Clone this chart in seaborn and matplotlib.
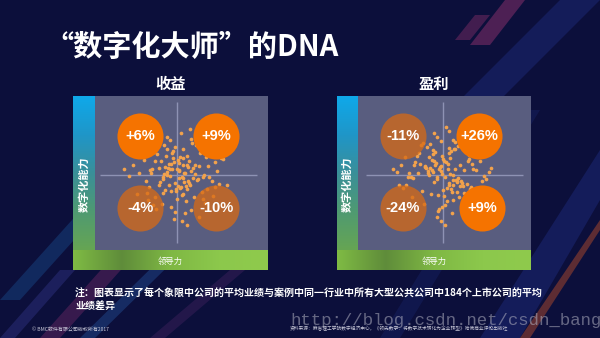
import numpy as np
import pandas as pd
import matplotlib
matplotlib.use("Agg")
import matplotlib.pyplot as plt
from matplotlib.colors import LinearSegmentedColormap
from matplotlib.patches import Polygon
import seaborn as sns

# ---------------- data ----------------
title = "“数字化大师”的DNA"
panel_titles = ["收益", "盈利"]
revenue_diff = [6, 9, -4, -10]     # % vs industry average (TL, TR, BL, BR)
profit_diff = [-11, 26, -24, 9]
y_label = "数字化能力"
x_label = "领导力"
note = ("注：图表显示了每个象限中公司的平均业绩与案例中同一行业中所有大型公共公司中184个上市公司的平均\n"
        "业绩差异")
footer_left = "© BMC软件有限公司版权所有2017"
footer_right = "资料来源：麻省理工学院数字经济中心，《领先数字：将数字技术转化为企业转型》哈佛商业评论出版社"
watermark = "http://blog.csdn.net/csdn_bang"

# company scores (leadership x, digital capability y), centred on the industry average
rev_lead = [0.02, -0.10, 0.15, -0.22, 0.31, -0.05, 0.08, -0.35, 0.27, -0.14,
            0.44, -0.48, 0.11, 0.19, -0.28, 0.03, -0.17, 0.36, -0.07, 0.23,
            -0.41, 0.52, -0.02, 0.13, -0.31, 0.06, 0.29, -0.19, 0.40, -0.55,
            0.17, -0.09, 0.33, -0.25, 0.01, 0.47, -0.38, 0.10, -0.13, 0.25,
            -0.60, 0.58, 0.05, -0.21, 0.14, -0.04, 0.38, -0.45, 0.21, -0.30,
            0.09, -0.16, 0.62, -0.08, 0.30, -0.34, 0.18, -0.01, 0.42, -0.27,
            0.00, 0.26, -0.12, 0.07, -0.50, 0.35, -0.23, 0.16, -0.06, 0.50,
            -0.39, 0.12, 0.22, -0.18, 0.04, -0.43, 0.32, -0.11, 0.45, -0.29,
            0.24, -0.03, 0.55, -0.36, 0.15, -0.20, 0.08, -0.66, 0.28, -0.15,
            0.39, -0.52, 0.20, -0.09, 0.34, -0.26, 0.06, 0.48, -0.33, 0.12,
            0.03, -0.06, 0.10, -0.02, 0.07, -0.12, 0.14, 0.01, -0.09, 0.05,
            -0.15, 0.18, -0.04, 0.09, -0.07, 0.12, 0.00, -0.18, 0.04, 0.16,
            -0.10, 0.06, -0.01, 0.20, -0.13, 0.02, 0.11, -0.05, 0.08, -0.16]
rev_digi = [0.05, -0.12, 0.18, 0.09, -0.21, 0.30, -0.04, -0.15, 0.11, 0.24,
            -0.08, 0.02, -0.33, 0.40, -0.27, 0.15, -0.02, 0.22, -0.40, 0.01,
            0.19, -0.11, 0.35, -0.18, 0.07, -0.25, 0.28, -0.36, -0.03, 0.12,
            0.45, 0.08, -0.30, 0.26, -0.14, 0.16, -0.22, -0.48, 0.33, -0.06,
            -0.01, 0.20, 0.52, -0.09, 0.10, -0.55, -0.17, 0.25, -0.28, -0.38,
            0.03, 0.37, -0.12, 0.14, 0.42, 0.06, -0.44, -0.20, 0.31, 0.17,
            -0.30, -0.05, 0.48, 0.21, -0.24, -0.35, -0.13, 0.58, 0.27, 0.05,
            -0.07, -0.62, 0.13, -0.23, -0.16, 0.34, -0.03, 0.09, -0.26, 0.29,
            0.38, -0.46, 0.21, -0.31, -0.10, 0.17, 0.32, 0.08, -0.52, -0.19,
            0.11, -0.36, -0.04, 0.44, 0.00, -0.42, -0.58, -0.15, 0.03, 0.24,
            -0.04, 0.08, 0.02, -0.10, 0.13, 0.04, -0.07, 0.19, -0.01, -0.15,
            0.10, 0.05, 0.16, -0.09, -0.20, 0.12, 0.07, -0.05, 0.23, -0.12,
            0.14, -0.02, -0.18, 0.09, 0.00, 0.06, -0.14, 0.21, -0.24, 0.01]
pro_lead = [-0.04, 0.12, -0.18, 0.25, -0.31, 0.07, 0.20, -0.09, 0.37, -0.26,
            0.15, -0.44, 0.02, -0.13, 0.30, -0.21, 0.46, -0.06, 0.10, -0.36,
            0.54, -0.15, 0.23, -0.01, -0.50, 0.33, 0.05, -0.28, 0.17, -0.11,
            0.41, -0.39, 0.08, 0.28, -0.23, 0.00, -0.58, 0.19, -0.07, 0.49,
            -0.33, 0.13, 0.36, -0.17, 0.04, -0.46, 0.26, -0.03, 0.60, -0.24,
            0.11, -0.12, 0.31, -0.40, 0.21, 0.06, -0.30, 0.43, -0.08, 0.16,
            -0.53, 0.27, -0.19, 0.09, 0.38, -0.02, -0.35, 0.14, 0.51, -0.25,
            0.01, -0.14, 0.24, -0.42, 0.32, -0.05, 0.18, -0.62, 0.44, -0.20,
            0.07, -0.29, 0.35, -0.10, 0.22, -0.47, 0.03, 0.57, -0.16, 0.29,
            -0.37, 0.12, -0.22, 0.40, -0.01, 0.15, -0.55, 0.26, -0.11, 0.34,
            0.02, -0.05, 0.09, -0.11, 0.06, 0.13, -0.03, -0.16, 0.10, 0.00,
            -0.08, 0.17, 0.04, -0.13, 0.11, -0.02, 0.07, -0.19, 0.15, -0.06,
            0.01, 0.19, -0.10, 0.05, -0.14, 0.12, -0.01, 0.08, -0.07, 0.21]
pro_digi = [0.10, -0.06, 0.22, -0.14, 0.03, 0.34, -0.28, 0.15, 0.07, -0.20,
            0.41, -0.02, -0.37, 0.26, -0.11, 0.09, 0.18, -0.45, 0.30, 0.13,
            -0.05, -0.24, 0.46, 0.01, -0.16, 0.20, -0.33, 0.38, -0.09, 0.52,
            0.06, -0.27, 0.27, -0.41, 0.11, -0.19, 0.04, 0.36, -0.52, -0.08,
            0.24, -0.31, 0.14, 0.00, 0.60, -0.12, -0.23, 0.43, 0.09, -0.36,
            -0.48, 0.31, 0.17, -0.03, -0.14, 0.08, 0.28, -0.30, 0.48, -0.06,
            0.12, -0.39, 0.05, 0.21, -0.18, -0.57, 0.16, 0.33, -0.01, 0.40,
            -0.26, 0.19, -0.10, 0.02, 0.25, -0.43, -0.21, 0.07, -0.34, 0.35,
            0.55, 0.14, -0.15, 0.29, -0.07, 0.23, -0.62, 0.04, 0.39, -0.29,
            -0.04, 0.44, 0.10, -0.22, -0.40, 0.32, -0.12, 0.06, 0.18, -0.17,
            -0.03, 0.07, 0.01, -0.09, 0.14, -0.12, 0.05, 0.09, -0.18, 0.20,
            -0.02, -0.07, 0.16, 0.04, -0.21, 0.11, -0.13, 0.02, 0.08, -0.25,
            0.17, -0.04, 0.12, -0.16, 0.06, 0.00, 0.24, -0.10, -0.05, 0.13]

# ---------------- style ----------------
sns.set_theme(style="white")
plt.rcParams['font.family'] = ['Noto Sans CJK SC', 'DejaVu Sans']
plt.rcParams['axes.unicode_minus'] = False

W, H = 600, 338
BG = "#0c0f3b"
fig = plt.figure(figsize=(W / 100, H / 100), dpi=100, facecolor=BG)


def box(x0, y0, x1, y1):
    return [x0 / W, (H - y1) / H, (x1 - x0) / W, (y1 - y0) / H]


# background decoration (diagonal light streaks)
bg = fig.add_axes([0, 0, 1, 1])
bg.set_xlim(0, W)
bg.set_ylim(H, 0)
bg.axis("off")
bg.set_facecolor(BG)
streaks = [
    ([(430, 130), (560, 0), (600, 0), (470, 130)], "#1c2a78", 0.5),
    ([(480, 338), (600, 150), (600, 200), (520, 338)], "#1e2c80", 0.45),
    ([(520, 338), (600, 220), (600, 230), (530, 338)], "#c0502a", 0.45),
    ([(470, 45), (505, 0), (525, 0), (490, 45)], "#b03a7a", 0.4),
    ([(455, 40), (475, 15), (490, 15), (470, 40)], "#c04080", 0.3),
    ([(380, 338), (520, 110), (540, 110), (400, 338)], "#18246a", 0.4),
    ([(0, 300), (90, 200), (110, 200), (20, 300)], "#1d5aa0", 0.35),
    ([(40, 338), (150, 215), (170, 215), (60, 338)], "#8a3070", 0.35),
    ([(80, 338), (190, 230), (205, 230), (95, 338)], "#2a62b0", 0.35),
    ([(0, 338), (60, 270), (75, 270), (15, 338)], "#3c3f9a", 0.35),
    ([(150, 338), (230, 270), (245, 270), (165, 338)], "#5a2a70", 0.3),
]
for pts, col, a in streaks:
    bg.add_patch(Polygon(pts, closed=True, color=col, alpha=a, lw=0))

fig.text(44 / W, 1 - 47 / H, title, color="white", fontsize=21,
         fontweight="bold", va="center", ha="left")

grad_cmap = LinearSegmentedColormap.from_list(
    "bar", ["#0fa9ea", "#1f96c8", "#3a8f99", "#4f9a72", "#66a553"])
green_cmap = LinearSegmentedColormap.from_list(
    "gbar", ["#7fbb44", "#5f8c3a", "#7fb844", "#8cc84c", "#8fca4c"])

panels = [
    dict(title=panel_titles[0], values=revenue_diff, lead=rev_lead, digi=rev_digi,
         bar=(73, 96, 95, 250), main=(95, 96, 268, 250), bottom=(73, 250, 268, 270),
         cross=(177, 175), cx=[-0.46, 0.49, -0.46, 0.49]),
    dict(title=panel_titles[1], values=profit_diff, lead=pro_lead, digi=pro_digi,
         bar=(337, 96, 358, 250), main=(358, 96, 531, 250), bottom=(337, 250, 531, 270),
         cross=(443, 175), cx=[-0.50, 0.45, -0.50, 0.49]),
]
cy = [0.49, 0.49, -0.41, -0.41]
UNIT = 80.0

for p in panels:
    # vertical gradient bar (digital capability)
    axb = fig.add_axes(box(*p["bar"]))
    axb.imshow(np.linspace(0, 1, 256).reshape(-1, 1), cmap=grad_cmap,
               aspect="auto", extent=[0, 1, 0, 1])
    axb.axis("off")
    axb.text(0.5, 0.43, y_label, rotation=90, color="white", fontsize=8,
             fontweight="bold", ha="center", va="center", transform=axb.transAxes)

    # bottom green bar (leadership)
    axg = fig.add_axes(box(*p["bottom"]))
    axg.imshow(np.linspace(0, 1, 256).reshape(1, -1), cmap=green_cmap,
               aspect="auto", extent=[0, 1, 0, 1])
    axg.axis("off")
    axg.text(0.5, 0.45, x_label, color="white", fontsize=6, ha="center",
             va="center", transform=axg.transAxes)

    # main quadrant area
    ax = fig.add_axes(box(*p["main"]))
    ax.set_facecolor("#595d7f")
    x0, y0, x1, y1 = p["main"]
    cxp, cyp = p["cross"]
    ax.set_xlim((x0 - cxp) / UNIT, (x1 - cxp) / UNIT)
    ax.set_ylim((cyp - y1) / UNIT, (cyp - y0) / UNIT)
    for s in ax.spines.values():
        s.set_visible(False)
    ax.set_xticks([])
    ax.set_yticks([])

    ax.vlines(0, -0.85, 0.91, color="#8e92b4", lw=1, zorder=1)
    ax.hlines(0, -0.96, 1.0, color="#8e92b4", lw=1, zorder=1)

    df = pd.DataFrame({"领导力": p["lead"], "数字化能力": p["digi"]})
    sns.scatterplot(data=df, x="领导力", y="数字化能力", ax=ax, color="#f2a24c",
                    s=7, linewidth=0, zorder=2, legend=False)
    ax.set_xlabel("")
    ax.set_ylabel("")

    for i, v in enumerate(p["values"]):
        pos = v > 0
        ax.scatter([p["cx"][i]], [cy[i]], s=1100,
                   color="#f57300" if pos else "#d86a14",
                   alpha=1.0 if pos else 0.75, linewidths=0, zorder=3)
        ax.text(p["cx"][i], cy[i], f"{v:+d}%", color="white", fontsize=10.5,
                fontweight="bold", ha="center", va="center", zorder=4,
                family=["Liberation Sans", "DejaVu Sans"])

    bx0 = p["bar"][0]
    fig.text(((bx0 + x1) / 2) / W, 1 - 84 / H, p["title"], color="white",
             fontsize=11, fontweight="bold", ha="center", va="center")

fig.text(75 / W, 1 - 300 / H, note, color="white", fontsize=7.2,
         fontweight="bold", ha="left", va="center", linespacing=1.25)
fig.text(32 / W, 1 - 330 / H, footer_left, color="#c8c8d8", fontsize=3.6,
         ha="left", va="center")
fig.text(290 / W, 1 - 329 / H, footer_right, color="#c8c8d8", fontsize=3.4,
         ha="left", va="center")
fig.text(290 / W, 1 - 321 / H, watermark, color="#b0b0c0", fontsize=12.5,
         alpha=0.55, ha="left", va="center", family=["Liberation Mono", "DejaVu Sans Mono"])

fig.savefig("out.png", dpi=100, facecolor=BG)
